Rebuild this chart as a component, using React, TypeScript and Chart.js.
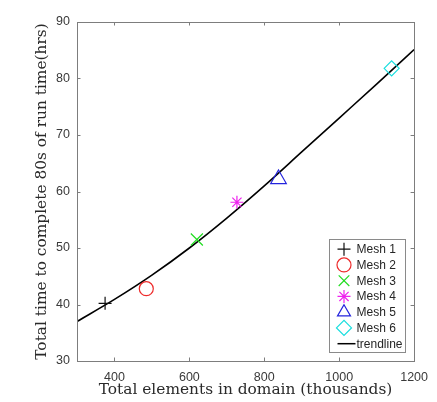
import React, { useEffect, useRef } from 'react';
import { Chart, registerables } from 'chart.js';
import { drawPoint } from 'chart.js/helpers';

Chart.register(...registerables);

// Measured runs: element count (thousands) vs. wall-clock hours
const meshLabels = ['Mesh 1', 'Mesh 2', 'Mesh 3', 'Mesh 4', 'Mesh 5', 'Mesh 6'];
const meshElements = [375, 485, 620, 727, 838, 1140];
const meshHours = [40.2, 42.8, 51.5, 58.1, 62.2, 81.8];
const meshColors = ['#111111', '#ee2a2a', '#22dd22', '#ee22ee', '#2424dd', '#18dede'];
const meshStyles = ['cross', 'circle', 'crossRot', 'star', 'triangle', 'rectRot'];
const meshRadii = [6.5, 7, 8.5, 6.5, 9, 7.5];

// Fitted trendline
const trendLabel = 'trendline';
const trendElements = [300, 400, 500, 600, 700, 800, 900, 1000, 1100, 1200];
const trendHours = [37.0, 40.9, 45.2, 50.0, 55.3, 61.0, 67.0, 73.0, 79.0, 85.1];

const xTicks = [400, 600, 800, 1000, 1200];
const yTicks = [30, 40, 50, 60, 70, 80, 90];

const xTitle = 'Total elements in domain (thousands)';
const yTitle = 'Total time to complete 80s of run time(hrs)';

const SANS = '"Liberation Sans", Arial, sans-serif';
const SERIF = '"DejaVu Serif", "Liberation Serif", serif';

const frameAndLegend = {
  id: 'frameAndLegend',
  afterDraw(chart: any) {
    const { ctx, chartArea: a, scales } = chart;
    ctx.save();
    // axes box
    ctx.strokeStyle = '#7d7d7d';
    ctx.lineWidth = 1;
    ctx.strokeRect(Math.round(a.left) + 0.5, Math.round(a.top) + 0.5, Math.round(a.right - a.left), Math.round(a.bottom - a.top));
    // inward tick marks on all four sides
    const tl = 3.5;
    ctx.beginPath();
    xTicks.forEach((v) => {
      const px = Math.round(scales.x.getPixelForValue(v)) + 0.5;
      ctx.moveTo(px, a.bottom);
      ctx.lineTo(px, a.bottom - tl);
      ctx.moveTo(px, a.top);
      ctx.lineTo(px, a.top + tl);
    });
    yTicks.forEach((v) => {
      const py = Math.round(scales.y.getPixelForValue(v)) + 0.5;
      ctx.moveTo(a.left, py);
      ctx.lineTo(a.left + tl, py);
      ctx.moveTo(a.right, py);
      ctx.lineTo(a.right - tl, py);
    });
    ctx.stroke();

    // legend box in the lower-right corner of the plot
    const bw = 76;
    const bh = 113;
    const bx = Math.round(a.right - 9 - bw) + 0.5;
    const by = Math.round(a.bottom - 9 - bh) + 0.5;
    ctx.fillStyle = '#ffffff';
    ctx.fillRect(bx, by, bw, bh);
    ctx.strokeStyle = '#8a8a8a';
    ctx.strokeRect(bx, by, bw, bh);

    const rowH = 15.75;
    const firstRow = by + 9.7;
    ctx.font = `12px ${SANS}`;
    ctx.textBaseline = 'middle';
    ctx.textAlign = 'left';
    meshLabels.forEach((label, i) => {
      const cy = firstRow + i * rowH;
      ctx.strokeStyle = meshColors[i];
      ctx.fillStyle = 'rgba(0,0,0,0)';
      ctx.lineWidth = 1.2;
      drawPoint(ctx, { pointStyle: meshStyles[i], radius: Math.min(meshRadii[i], 7.5), rotation: 0, borderWidth: 1.2 }, bx + 14.5, cy);
      ctx.fillStyle = '#262626';
      ctx.fillText(label, bx + 27, cy + 0.5);
    });
    const ty = firstRow + 6 * rowH;
    ctx.strokeStyle = '#000000';
    ctx.lineWidth = 1.5;
    ctx.beginPath();
    ctx.moveTo(bx + 8, ty);
    ctx.lineTo(bx + 26, ty);
    ctx.stroke();
    ctx.fillStyle = '#262626';
    ctx.fillText(trendLabel, bx + 27, ty + 0.5);
    ctx.restore();
  },
};

export default function App() {
  const canvasRef = useRef<HTMLCanvasElement | null>(null);

  useEffect(() => {
    const canvas = canvasRef.current;
    if (!canvas) return;

    const meshSets = meshLabels.map((label, i) => ({
      label,
      data: [{ x: meshElements[i], y: meshHours[i] }],
      pointStyle: meshStyles[i],
      pointRadius: meshRadii[i],
      pointBorderColor: meshColors[i],
      pointBackgroundColor: 'rgba(0,0,0,0)',
      pointBorderWidth: 1.2,
      showLine: false,
      order: 1,
    }));

    const trendSet = {
      label: trendLabel,
      data: trendElements.map((x, i) => ({ x, y: trendHours[i] })),
      showLine: true,
      borderColor: '#000000',
      borderWidth: 1.6,
      pointRadius: 0,
      cubicInterpolationMode: 'monotone',
      order: 2,
    };

    const chart = new Chart(canvas, {
      type: 'scatter',
      data: { datasets: [trendSet as any, ...meshSets] },
      options: {
        animation: false,
        responsive: false,
        devicePixelRatio: 1,
        layout: { padding: { top: 22, right: 22, left: 0, bottom: 0 } },
        plugins: { legend: { display: false }, tooltip: { enabled: false } },
        scales: {
          x: {
            type: 'linear',
            min: 300,
            max: 1200,
            afterBuildTicks: (s: any) => {
              s.ticks = xTicks.map((value) => ({ value }));
            },
            afterFit: (s: any) => {
              s.height = 41;
            },
            grid: { display: false, drawTicks: false },
            border: { display: false },
            ticks: {
              autoSkip: false,
              maxRotation: 0,
              padding: 9,
              color: '#3a3a3a',
              font: { family: SANS, size: 12.5 },
              callback: (v: any) => String(v),
            },
            title: {
              display: true,
              text: xTitle,
              color: '#2a2a2a',
              font: { family: SERIF, size: 15.4 },
              padding: { top: 0, bottom: 3 },
            },
          },
          y: {
            type: 'linear',
            min: 30,
            max: 90,
            afterBuildTicks: (s: any) => {
              s.ticks = yTicks.map((value) => ({ value }));
            },
            afterFit: (s: any) => {
              s.width = 77;
            },
            grid: { display: false, drawTicks: false },
            border: { display: false },
            ticks: {
              padding: 7,
              color: '#3a3a3a',
              font: { family: SANS, size: 12.5 },
              callback: (v: any) => String(v),
            },
            title: {
              display: true,
              text: yTitle,
              color: '#2a2a2a',
              font: { family: SERIF, size: 15.4 },
              padding: { top: 33, bottom: 0 },
            },
          },
        },
      },
      plugins: [frameAndLegend],
    });

    return () => chart.destroy();
  }, []);

  return (
    <div style={{ position: 'fixed', left: 0, top: 0, width: 437, height: 402, background: '#ffffff' }}>
      <canvas ref={canvasRef} width={437} height={402} />
    </div>
  );
}
